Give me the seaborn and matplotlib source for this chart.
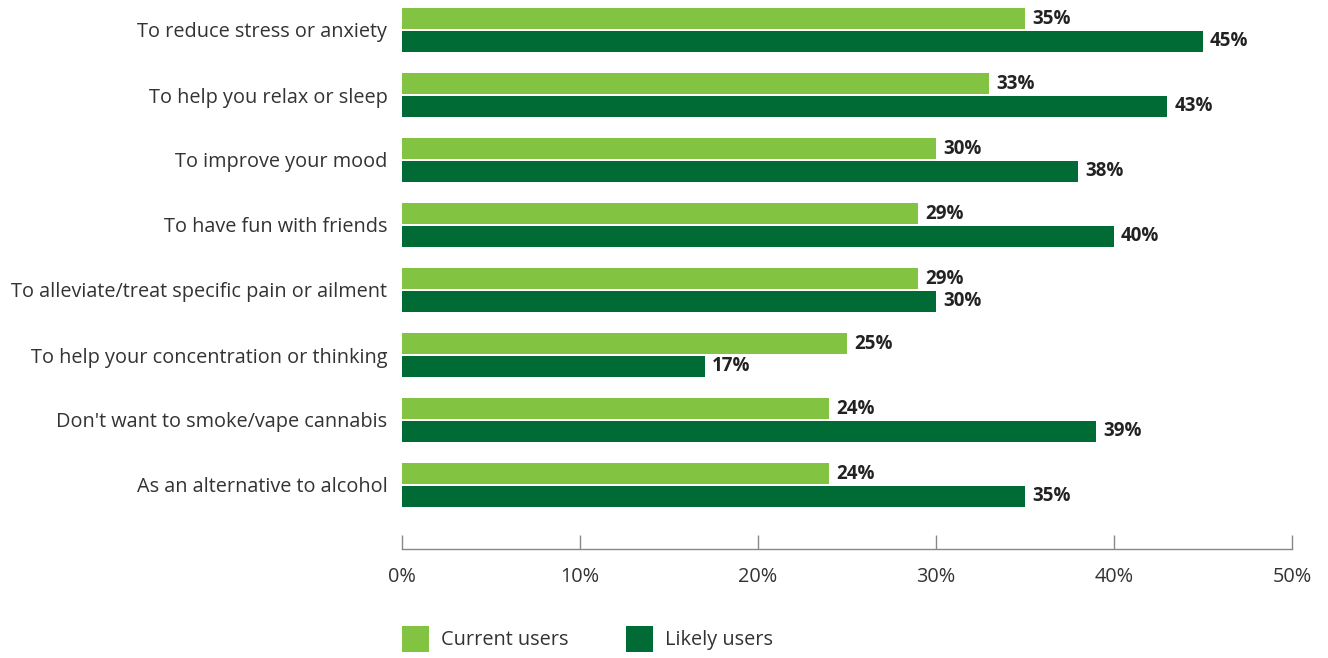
import matplotlib
matplotlib.use("Agg")
import matplotlib.pyplot as plt
import seaborn as sns
import pandas as pd
from matplotlib.patches import Patch

categories = [
    "To reduce stress or anxiety",
    "To help you relax or sleep",
    "To improve your mood",
    "To have fun with friends",
    "To alleviate/treat specific pain or ailment",
    "To help your concentration or thinking",
    "Don't want to smoke/vape cannabis",
    "As an alternative to alcohol",
]
series_names = ["Current users", "Likely users"]
current_users = [35, 33, 30, 29, 29, 25, 24, 24]
likely_users = [45, 43, 38, 40, 30, 17, 39, 35]
x_ticks = [0, 10, 20, 30, 40, 50]
x_tick_labels = ["0%", "10%", "20%", "30%", "40%", "50%"]

colors = ["#82C341", "#006B35"]

df = pd.DataFrame({
    "category": categories * 2,
    "series": [series_names[0]] * len(categories) + [series_names[1]] * len(categories),
    "value": current_users + likely_users,
})

sns.set_theme(style="white")
plt.rcParams["font.family"] = ["Open Sans", "DejaVu Sans"]

W, H = 1328, 658
fig = plt.figure(figsize=(W / 100, H / 100), dpi=100)
ax = fig.add_axes([402 / W, 1 - 549 / H, 890 / W, 549 / H])

sns.barplot(data=df, y="category", x="value", hue="series", order=categories,
            hue_order=series_names, palette=colors, orient="h", width=0.69,
            gap=0.07, ax=ax, legend=False, saturation=1, linewidth=0, edgecolor="none")

for cont in ax.containers:
    ax.bar_label(cont, labels=[f"{int(v)}%" for v in cont.datavalues], padding=5,
                 fontsize=13.5, fontweight="bold", color="#222222",
                 family=["Open Sans", "DejaVu Sans"])

ax.set_xlim(0, 50)
ax.set_ylim(7 + 64 / 65, -30 / 65)
ax.set_xticks(x_ticks)
ax.set_xticklabels(x_tick_labels, fontsize=14.3, color="#333333")
ax.tick_params(axis="x", direction="in", length=10, width=1, color="#888888", pad=13, bottom=True)
ax.tick_params(axis="y", length=0, pad=10.5, labelsize=14.3, labelcolor="#333333")
ax.set_xlabel("")
ax.set_ylabel("")
for s in ["top", "right", "left"]:
    ax.spines[s].set_visible(False)
ax.spines["bottom"].set_color("#888888")
ax.spines["bottom"].set_linewidth(1)

handles = [Patch(facecolor=c, edgecolor="none") for c in colors]
fig.legend(handles, series_names, loc="center left", bbox_to_anchor=(402 / W, 1 - 639 / H),
           ncol=2, frameon=False, fontsize=14.3, handlelength=1.36, handleheight=1.66,
           handletextpad=0.6, columnspacing=2.9, borderpad=0, borderaxespad=0,
           labelcolor="#333333")

fig.savefig("out.png", dpi=100)
